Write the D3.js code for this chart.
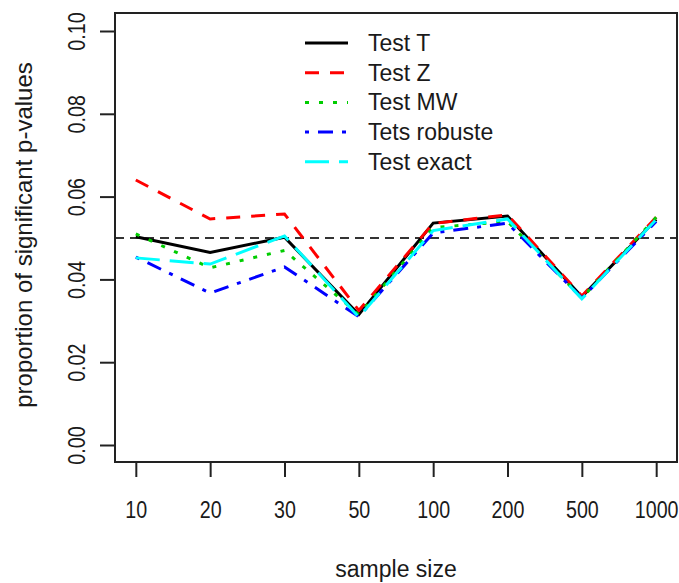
<!DOCTYPE html>
<html>
<head>
<meta charset="utf-8">
<script src="https://cdn.jsdelivr.net/npm/d3@7/dist/d3.min.js"></script>
<style>
  body { margin: 0; background: #fff; }
  text { font-family: "Liberation Sans", Arial, sans-serif; fill: #1a1a1a; }
</style>
</head>
<body>
<svg id="chart" width="679" height="583"></svg>
<script>
// sample sizes (categorical axis)
var sizes = ["10", "20", "30", "50", "100", "200", "500", "1000"];
var yTicks = [0, 0.02, 0.04, 0.06, 0.08, 0.10];

// proportion of significant p-values per test
var testT      = [0.0503, 0.0465, 0.0502, 0.0315, 0.0536, 0.0553, 0.0358, 0.0545];
var testZ      = [0.0640, 0.0546, 0.0558, 0.0325, 0.0535, 0.0556, 0.0360, 0.0550];
var testMW     = [0.0510, 0.0428, 0.0470, 0.0315, 0.0525, 0.0540, 0.0355, 0.0550];
var testRobust = [0.0454, 0.0367, 0.0430, 0.0310, 0.0512, 0.0536, 0.0355, 0.0540];
var testExact  = [0.0452, 0.0437, 0.0505, 0.0309, 0.0518, 0.0546, 0.0353, 0.0545];

var seriesNames = ["Test T", "Test Z", "Test MW", "Tets robuste", "Test exact"];
var seriesData = [testT, testZ, testMW, testRobust, testExact];
var colors = ["#000000", "#ff0000", "#00cd00", "#0000ff", "#00ffff"];
var dashes = [null, "14 11", "4 10", "4 9 15 9", "24 10"];

var svg = d3.select("#chart");
var plotL = 115, plotR = 677, plotT = 13, plotB = 462;

var x = d3.scalePoint().domain(sizes).range([plotL, plotR]).padding(0.28);
var y = d3.scaleLinear().domain([0, 0.10]).range([445, 31]);

// reference line at 0.05
svg.append("line")
  .attr("x1", plotL).attr("x2", plotR)
  .attr("y1", y(0.05)).attr("y2", y(0.05))
  .style("stroke", "#333")
  .style("stroke-width", 2)
  .style("stroke-dasharray", "9 6");

var line = d3.line()
  .x((d, i) => x(sizes[i]))
  .y(d => y(d));

svg.selectAll("path.series")
  .data(seriesData)
  .enter()
  .append("path")
  .attr("class", "series")
  .attr("d", d => line(d))
  .style("fill", "none")
  .style("stroke", (d, i) => colors[i])
  .style("stroke-width", 3)
  .style("stroke-dasharray", (d, i) => dashes[i]);

// box
svg.append("rect")
  .attr("x", plotL).attr("y", plotT)
  .attr("width", plotR - plotL).attr("height", plotB - plotT)
  .style("fill", "none")
  .style("stroke", "#222")
  .style("stroke-width", 2);

// x axis (tick labels in a narrow face, like the original)
var xAxis = svg.append("g")
  .attr("transform", "translate(0," + plotB + ")")
  .call(d3.axisBottom(x).tickSize(15).tickPadding(24));
xAxis.select(".domain").remove();
xAxis.selectAll("line").style("stroke", "#222").style("stroke-width", 2);
xAxis.selectAll("text")
  .attr("transform", "scale(0.82,1)")
  .style("font-family", "Liberation Sans, Arial, sans-serif")
  .style("font-size", "24px").style("fill", "#1a1a1a");

// y axis
var yAxis = svg.append("g")
  .attr("transform", "translate(" + plotL + ",0)")
  .call(d3.axisLeft(y).tickValues(yTicks).tickFormat(d3.format(".2f")).tickSize(15).tickPadding(0));
yAxis.select(".domain").remove();
yAxis.selectAll("line").style("stroke", "#222").style("stroke-width", 2);
yAxis.selectAll("text")
  .attr("x", null).attr("dy", null)
  .attr("transform", "translate(-30,0) rotate(-90) scale(0.82,1)")
  .attr("text-anchor", "middle")
  .style("font-family", "Liberation Sans, Arial, sans-serif")
  .style("font-size", "24px").style("fill", "#1a1a1a");

// axis titles
svg.append("text")
  .attr("x", (plotL + plotR) / 2).attr("y", 577)
  .attr("text-anchor", "middle")
  .style("font-size", "23px")
  .text("sample size");

svg.append("text")
  .attr("transform", "translate(32,235) rotate(-90)")
  .attr("text-anchor", "middle")
  .style("font-size", "24px")
  .text("proportion of significant p-values");

// legend
var legend = svg.append("g");
var rows = legend.selectAll("g")
  .data(seriesNames)
  .enter()
  .append("g")
  .attr("transform", (d, i) => "translate(305," + (43 + i * 29.7) + ")");
rows.append("line")
  .attr("x1", 0).attr("x2", 43)
  .style("stroke", (d, i) => colors[i])
  .style("stroke-width", 3)
  .style("stroke-dasharray", (d, i) => dashes[i]);
rows.append("text")
  .attr("x", 63).attr("y", 8)
  .style("font-size", "23px")
  .text(d => d);
</script>
</body>
</html>
